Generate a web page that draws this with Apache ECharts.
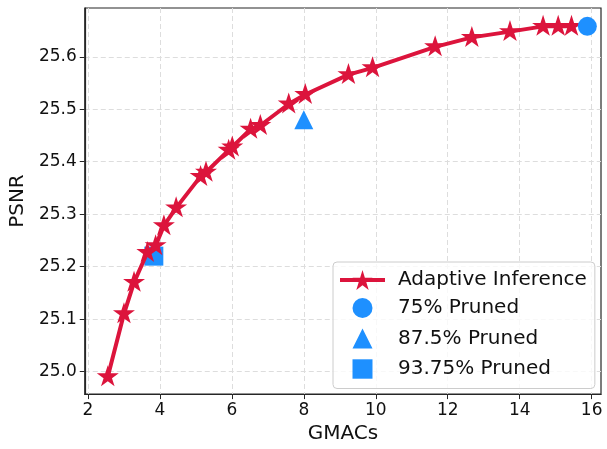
<!DOCTYPE html>
<html>
<head>
<meta charset="utf-8">
<script src="https://cdn.jsdelivr.net/npm/echarts@6/dist/echarts.min.js"></script>
<style>
  html, body { margin: 0; padding: 0; background: #fff; }
  #chart { width: 607px; height: 449px; }
</style>
</head>
<body>
<div id="chart"></div>
<script>
// adaptive inference curve (GMACs vs PSNR)
var adaptiveGmacs = [2.55, 3.0, 3.28, 3.65, 3.88, 4.11, 4.45, 5.13, 5.28, 5.91, 6.01, 6.52, 6.79, 7.58, 8.04, 9.24, 9.91, 11.65, 12.67, 13.73, 14.65, 15.07, 15.44];
var adaptivePsnr = [24.99, 25.11, 25.17, 25.227, 25.24, 25.278, 25.312, 25.372, 25.38, 25.422, 25.428, 25.462, 25.469, 25.51, 25.528, 25.566, 25.579, 25.619, 25.637, 25.648, 25.658, 25.658, 25.658];

// pruned models, one point each
var pruned75 = [15.88, 25.658];
var pruned875 = [8.0, 25.48];
var pruned9375 = [3.83, 25.22];

var xTicks = [2, 4, 6, 8, 10, 12, 14, 16];
var yTicks = [25.0, 25.1, 25.2, 25.3, 25.4, 25.5, 25.6];

var red = '#DC143C';
var blue = '#1E90FF';
var font = 'DejaVu Sans';

// 5-pointed star like matplotlib's '*'
function starPath() {
    var pts = [];
    for (var i = 0; i < 10; i++) {
        var a = (-90 + i * 36) * Math.PI / 180;
        var r = i % 2 ? 38.2 : 100;
        pts.push((100 + r * Math.cos(a)).toFixed(2) + ' ' + (100 + r * Math.sin(a)).toFixed(2));
    }
    return 'path://M' + pts.join(' L') + ' Z';
}
var star = starPath();

// legend icons: the leading moves pad the box so the shape stays ~20px in a 25px row
var pad = 'M0 0 M125 125 ';
var iconCircle = 'path://' + pad + 'M112.5 62.5 A50 50 0 1 1 12.5 62.5 A50 50 0 1 1 112.5 62.5 Z';
var iconTriangle = 'path://' + pad + 'M62.5 12.5 L112.5 112.5 L12.5 112.5 Z';
var iconSquare = 'path://' + pad + 'M12.5 14 L112.5 14 L112.5 111 L12.5 111 Z';

var chart = echarts.init(document.getElementById('chart'));

var option = {
    animation: false,
    grid: {
        left: 84, right: 6, top: 8, bottom: 50,
        show: true,
        borderColor: '#262626',
        borderWidth: 1.2
    },
    legend: {
        orient: 'vertical',
        left: 333,
        top: 262,
        padding: [8, 8, 7, 5],
        itemWidth: 45,
        itemHeight: 25,
        itemGap: 5.5,
        selectedMode: false,
        backgroundColor: 'rgba(255,255,255,0.8)',
        borderColor: '#cccccc',
        borderWidth: 1,
        borderRadius: 4,
        lineStyle: { width: 4 },
        itemStyle: { opacity: 1 },
        textStyle: { fontFamily: font, fontSize: 20, color: '#111', lineHeight: 20, padding: [0, 0, 0, 8] },
        data: [
            { name: 'Adaptive Inference' },
            { name: '75% Pruned', icon: iconCircle },
            { name: '87.5% Pruned', icon: iconTriangle },
            { name: '93.75% Pruned', icon: iconSquare }
        ]
    },
    xAxis: {
        type: 'value',
        min: 1.91,
        max: 16.26,
        splitNumber: 7,
        name: 'GMACs',
        nameLocation: 'middle',
        nameGap: 29,
        nameTextStyle: { fontFamily: font, fontSize: 20, color: '#111' },
        axisLine: { show: true, lineStyle: { color: '#262626', width: 1.2 } },
        axisTick: { show: true, length: 5, customValues: xTicks, lineStyle: { color: '#262626' } },
        axisLabel: { fontFamily: font, fontSize: 17, color: '#111', margin: 8, customValues: xTicks },
        splitLine: { show: true, lineStyle: { color: '#dddddd', type: [5, 3], width: 1 } }
    },
    yAxis: {
        type: 'value',
        min: 24.957,
        max: 25.693,
        splitNumber: 7,
        name: 'PSNR',
        nameLocation: 'middle',
        nameGap: 55,
        nameTextStyle: { fontFamily: font, fontSize: 20, color: '#111' },
        axisLine: { show: true, lineStyle: { color: '#262626', width: 1.2 } },
        axisTick: { show: true, length: 5, customValues: yTicks, lineStyle: { color: '#262626' } },
        axisLabel: {
            fontFamily: font, fontSize: 17, color: '#111', margin: 8, customValues: yTicks,
            formatter: function (v) { return v.toFixed(1); }
        },
        splitLine: { show: true, lineStyle: { color: '#dddddd', type: [5, 3], width: 1 } }
    },
    series: [
        {
            name: '93.75% Pruned',
            type: 'scatter',
            z: 1,
            symbol: 'rect',
            symbolSize: 19,
            itemStyle: { color: blue, opacity: 1 },
            data: [pruned9375]
        },
        {
            name: 'Adaptive Inference',
            type: 'line',
            z: 2,
            symbol: star,
            symbolSize: [22, 21],
            symbolOffset: [0, -1],
            showSymbol: true,
            itemStyle: { color: red, opacity: 1 },
            lineStyle: { color: red, width: 4 },
            emphasis: { disabled: true },
            data: adaptiveGmacs.map(function (g, i) { return [g, adaptivePsnr[i]]; })
        },
        {
            name: '75% Pruned',
            type: 'scatter',
            z: 3,
            symbol: 'circle',
            symbolSize: 19,
            itemStyle: { color: blue, opacity: 1 },
            data: [pruned75]
        },
        {
            name: '87.5% Pruned',
            type: 'scatter',
            z: 3,
            symbol: 'triangle',
            symbolSize: 19,
            itemStyle: { color: blue, opacity: 1 },
            data: [pruned875]
        }
    ]
};

chart.setOption(option);
</script>
</body>
</html>
